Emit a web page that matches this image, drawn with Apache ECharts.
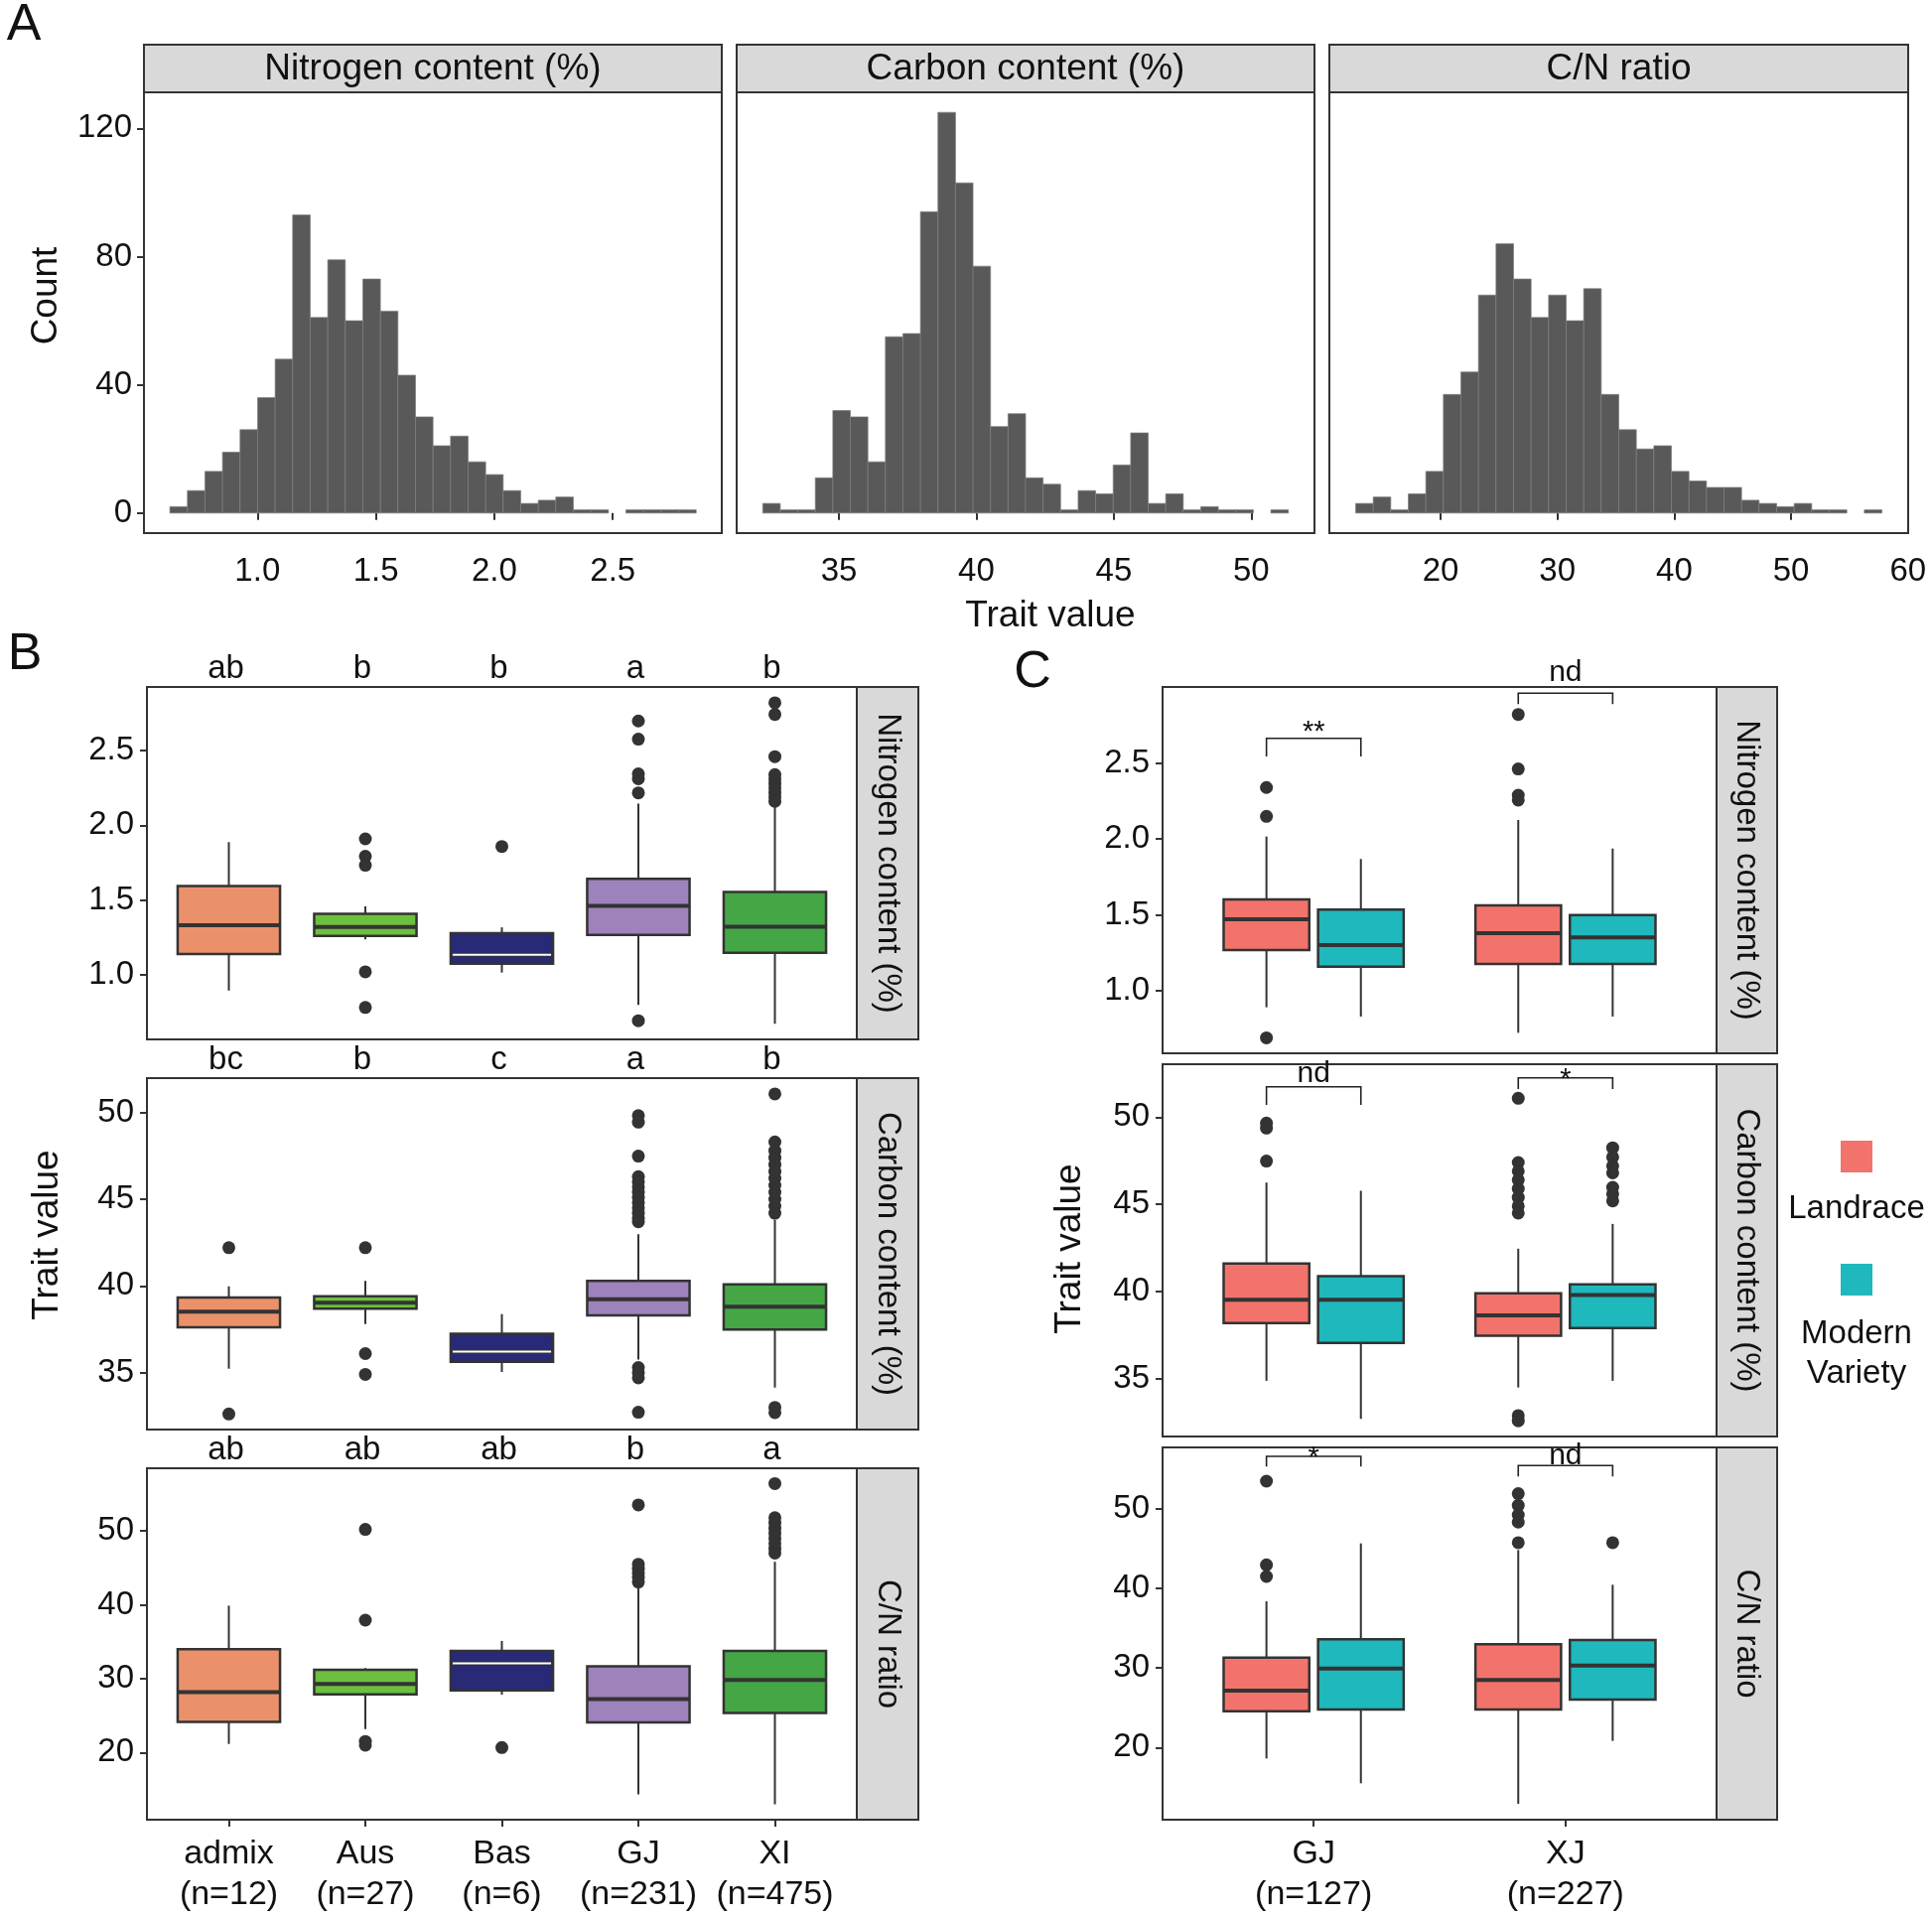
<!DOCTYPE html>
<html>
<head>
<meta charset="utf-8">
<title>Nitrogen, carbon and C/N ratio</title>
<script src="https://cdn.jsdelivr.net/npm/echarts@6.0.0/dist/echarts.min.js"></script>
<style>
html, body { margin: 0; padding: 0; background: #fff; }
#main { width: 1946px; height: 1929px; }
</style>
</head>
<body>
<div id="main"></div>
<script>
// ---- panel A: histograms (first bin edge, bin width, counts per bin)
const nitBinStart = 0.6304, nitBinWidth = 0.07405;
const nitCounts = [2, 7, 13, 19, 26, 36, 48, 93, 61, 79, 60, 73, 63, 43, 30, 21, 24, 16, 12, 7, 3, 4, 5, 1, 1, 0, 1, 1, 1, 1];
const carBinStart = 32.229, carBinWidth = 0.6374;
const carCounts = [3, 1, 1, 11, 32, 30, 16, 55, 56, 94, 125, 103, 77, 27, 31, 11, 9, 1, 7, 6, 15, 25, 3, 6, 1, 2, 1, 1, 0, 1];
const ratBinStart = 12.733, ratBinWidth = 1.5012;
const ratCounts = [3, 5, 1, 6, 13, 37, 44, 68, 84, 73, 61, 68, 60, 70, 37, 26, 20, 21, 13, 10, 8, 8, 4, 3, 2, 3, 1, 1, 0, 1];

const traitNames = ['Nitrogen content (%)', 'Carbon content (%)', 'C/N ratio'];
const countTicks = [0, 40, 80, 120];
const nitTicks = [1.0, 1.5, 2.0, 2.5];
const carTicks = [35, 40, 45, 50];
const ratTicksA = [20, 30, 40, 50, 60];
const ratTicks = [20, 30, 40, 50];

// ---- panel B: subpopulations, boxes are [min, Q1, median, Q3, max]
const groupNames = ['admix', 'Aus', 'Bas', 'GJ', 'XI'];
const groupN = [12, 27, 6, 231, 475];
const groupColors = ['#EA916B', '#6CBF3F', '#282A77', '#9E82BB', '#45A646'];
const groupMedian = ['#222', '#222', '#fff', '#222', '#222'];

const bNitBox = [
  [0.892, 1.137, 1.330, 1.593, 1.887],
  [1.235, 1.259, 1.319, 1.407, 1.456],
  [1.013, 1.073, 1.133, 1.277, 1.316],
  [0.796, 1.265, 1.460, 1.642, 2.146],
  [0.670, 1.146, 1.321, 1.553, 2.124]
];
const bNitOut = [
  [],
  [1.909, 1.792, 1.732, 1.018, 0.779],
  [1.858],
  [2.699, 2.577, 2.345, 2.312, 2.217, 0.690],
  [2.821, 2.743, 2.460, 2.34, 2.31, 2.28, 2.25, 2.22, 2.19, 2.16]
];
const bNitLetters = ['ab', 'b', 'b', 'a', 'b'];

const bCarBox = [
  [35.23, 37.62, 38.52, 39.33, 39.98],
  [37.81, 38.69, 39.03, 39.41, 40.29],
  [35.04, 35.63, 36.22, 37.24, 38.38],
  [35.76, 38.31, 39.24, 40.30, 42.98],
  [34.14, 37.49, 38.80, 40.10, 43.82]
];
const bCarOut = [
  [42.21, 32.62],
  [42.21, 36.10, 34.90],
  [],
  [49.83, 49.45, 47.49, 46.3, 46.0, 45.7, 45.4, 45.1, 44.8, 44.5, 44.2, 43.9, 43.7, 35.3, 35.0, 34.7, 32.72],
  [51.08, 48.31, 47.8, 47.4, 47.0, 46.6, 46.2, 45.8, 45.4, 45.0, 44.6, 44.2, 33.0, 32.7]
];
const bCarLetters = ['bc', 'b', 'c', 'a', 'b'];

const bRatBox = [
  [21.16, 24.16, 28.18, 33.99, 39.89],
  [23.17, 27.87, 29.30, 31.22, 31.44],
  [27.82, 28.40, 32.07, 33.77, 35.11],
  [14.32, 24.07, 27.24, 31.67, 42.49],
  [12.98, 25.36, 29.83, 33.77, 45.84]
];
const bRatOut = [
  [],
  [50.22, 37.93, 21.5, 21.0],
  [20.67],
  [53.53, 45.5, 44.9, 44.3, 43.7, 43.1],
  [56.43, 51.8, 51.1, 50.4, 49.7, 49.0, 48.3, 47.6, 47.0]
];
const bRatLetters = ['ab', 'ab', 'ab', 'b', 'a'];

// ---- panel C: GJ / XJ split by landrace and modern variety
const cGroups = ['GJ', 'XJ'];
const cGroupN = [127, 227];
const typeNames = ['Landrace', 'Modern', 'Variety'];
const typeColors = ['#F2736B', '#1FB8BC'];

// order: GJ landrace, GJ modern, XJ landrace, XJ modern
const cNitBox = [
  [0.891, 1.268, 1.471, 1.602, 2.016],
  [0.830, 1.159, 1.301, 1.534, 1.868],
  [0.723, 1.177, 1.379, 1.562, 2.125],
  [0.830, 1.177, 1.351, 1.499, 1.937]
];
const cNitOut = [[2.339, 2.149, 0.690], [], [2.820, 2.461, 2.288, 2.256], []];
const cCarBox = [
  [34.89, 38.20, 39.53, 41.61, 46.25],
  [32.71, 37.06, 39.53, 40.89, 45.78],
  [34.51, 37.48, 38.64, 39.91, 42.46],
  [34.89, 37.92, 39.81, 40.42, 43.88]
];
const cCarOut = [
  [49.66, 49.37, 47.48],
  [],
  [51.08, 47.4, 46.9, 46.4, 45.9, 45.4, 44.9, 44.5, 32.9, 32.6],
  [48.24, 47.7, 47.2, 46.8, 45.97, 45.6, 45.2]
];
const cRatBox = [
  [18.63, 24.57, 27.15, 31.30, 38.36],
  [15.51, 24.78, 29.93, 33.59, 45.63],
  [12.94, 24.78, 28.48, 32.96, 44.80],
  [20.83, 26.02, 30.30, 33.50, 40.44]
];
const cRatOut = [
  [53.44, 42.93, 41.48],
  [],
  [51.87, 50.41, 49.2, 48.3, 45.72],
  [45.72]
];
// significance brackets: [label, bracket y, leg bottom y, label y]
const cNitSig = [['**', 2.663, 2.543, 2.744], ['nd', 2.960, 2.888, 3.095]];
const cCarSig = [['nd', 51.74, 50.70, 52.46], ['*', 52.25, 51.61, 52.50]];
const cRatSig = [['*', 56.56, 55.27, 57.18], ['nd', 55.40, 54.03, 56.56]];

// ---------------------------------------------------------------
const FONT = '"Liberation Sans", Arial, sans-serif';
const DARK = '#333';
const TXT = '#111';
const DODGE = 0.1875;

const grids = [
  { left: 145, top: 93, width: 582, height: 444 },
  { left: 742, top: 93, width: 582, height: 444 },
  { left: 1339, top: 93, width: 583, height: 444 },
  { left: 148, top: 692, width: 715, height: 355 },
  { left: 148, top: 1086, width: 715, height: 354 },
  { left: 148, top: 1479, width: 715, height: 354 },
  { left: 1171, top: 692, width: 558, height: 369 },
  { left: 1171, top: 1072, width: 558, height: 375 },
  { left: 1171, top: 1458, width: 558, height: 375 }
].map(function (g) {
  return Object.assign({
    show: true, borderColor: DARK, borderWidth: 2, backgroundColor: '#fff',
    containLabel: false, outerBoundsMode: 'none'
  }, g);
});

function mkAxis(gi, min, max, ticks, show, fmt, margin, size) {
  return {
    type: 'value', gridIndex: gi, min: min, max: max,
    axisLine: { show: false },
    splitLine: { show: false },
    axisTick: { show: show, customValues: ticks, length: 7, lineStyle: { color: DARK, width: 2 } },
    axisLabel: {
      show: show, customValues: ticks, formatter: fmt, margin: margin,
      fontFamily: FONT, fontSize: size || 33, color: TXT, lineHeight: 41
    }
  };
}
const f1 = function (v) { return Number(v).toFixed(1); };
const f0 = function (v) { return String(Math.round(v)); };
const bName = function (v) { const i = Math.round(v) - 1; return groupNames[i] + '\n(n=' + groupN[i] + ')'; };
const cName = function (v) { const i = Math.round(v) - 1; return cGroups[i] + '\n(n=' + cGroupN[i] + ')'; };

const yRange = {
  b: [[0.565, 2.927], [31.72, 51.99], [10.90, 58.50]],
  c: [[0.588, 3.001], [31.70, 53.03], [10.94, 57.68]]
};

const xAxes = [
  mkAxis(0, 0.521, 2.960, nitTicks, true, f1, 18),
  mkAxis(1, 31.28, 52.30, carTicks, true, f0, 18),
  mkAxis(2, 10.48, 60.02, ratTicksA, true, f0, 18),
  mkAxis(3, 0.4, 5.6, [1, 2, 3, 4, 5], false, bName, 14),
  mkAxis(4, 0.4, 5.6, [1, 2, 3, 4, 5], false, bName, 14),
  mkAxis(5, 0.4, 5.6, [1, 2, 3, 4, 5], true, bName, 14, 34),
  mkAxis(6, 0.4, 2.6, [1, 2], false, cName, 14),
  mkAxis(7, 0.4, 2.6, [1, 2], false, cName, 14),
  mkAxis(8, 0.4, 2.6, [1, 2], true, cName, 14, 34)
];
const yAxes = [
  mkAxis(0, -6.25, 131.25, countTicks, true, f0, 12),
  mkAxis(1, -6.25, 131.25, countTicks, false, f0, 12),
  mkAxis(2, -6.25, 131.25, countTicks, false, f0, 12),
  mkAxis(3, yRange.b[0][0], yRange.b[0][1], nitTicks, true, f1, 13),
  mkAxis(4, yRange.b[1][0], yRange.b[1][1], carTicks, true, f0, 13),
  mkAxis(5, yRange.b[2][0], yRange.b[2][1], ratTicks, true, f0, 13),
  mkAxis(6, yRange.c[0][0], yRange.c[0][1], nitTicks, true, f1, 13),
  mkAxis(7, yRange.c[1][0], yRange.c[1][1], carTicks, true, f0, 13),
  mkAxis(8, yRange.c[2][0], yRange.c[2][1], ratTicks, true, f0, 13)
];

// ---- series builders
function histSeries(ai, start, width, counts) {
  const data = [];
  counts.forEach(function (c, i) {
    if (c > 0) data.push([start + i * width, start + (i + 1) * width, c]);
  });
  return {
    type: 'custom', xAxisIndex: ai, yAxisIndex: ai, silent: true,
    encode: { x: [0, 1], y: 2 },
    data: data,
    renderItem: function (params, api) {
      const p0 = api.coord([api.value(0), 0]);
      const p1 = api.coord([api.value(1), api.value(2)]);
      return {
        type: 'rect',
        shape: { x: p0[0], y: p1[1], width: p1[0] - p0[0], height: p0[1] - p1[1] },
        style: { fill: '#595959', stroke: '#7d7d7d', lineWidth: 0.7 }
      };
    }
  };
}

function boxSeries(ai, boxes, xs, width, fills, medians) {
  return {
    type: 'custom', xAxisIndex: ai, yAxisIndex: ai, silent: true,
    encode: { x: 0, y: [1, 2, 3, 4, 5] },
    data: boxes.map(function (b, i) { return [xs[i]].concat(b); }),
    renderItem: function (params, api) {
      const x = api.value(0);
      const lo = api.coord([x, api.value(1)]);
      const q1 = api.coord([x, api.value(2)]);
      const md = api.coord([x, api.value(3)]);
      const q3 = api.coord([x, api.value(4)]);
      const hi = api.coord([x, api.value(5)]);
      const l = api.coord([x - width / 2, api.value(3)])[0];
      const r = api.coord([x + width / 2, api.value(3)])[0];
      const ls = { stroke: DARK, lineWidth: 2 };
      const kids = [
        { type: 'line', shape: { x1: hi[0], y1: hi[1], x2: q3[0], y2: q3[1] }, style: ls },
        { type: 'line', shape: { x1: q1[0], y1: q1[1], x2: lo[0], y2: lo[1] }, style: ls },
        { type: 'rect', shape: { x: l, y: q3[1], width: r - l, height: q1[1] - q3[1] },
          style: { fill: fills[params.dataIndex], stroke: DARK, lineWidth: 2.5 } },
        { type: 'line', shape: { x1: l, y1: md[1], x2: r, y2: md[1] }, style: { stroke: DARK, lineWidth: 4 } }
      ];
      if (medians && medians[params.dataIndex] === '#fff') {
        kids.push({ type: 'line', shape: { x1: l + 2, y1: md[1], x2: r - 2, y2: md[1] },
          style: { stroke: medians[params.dataIndex], lineWidth: 2 } });
      }
      return { type: 'group', children: kids };
    }
  };
}

function outlierSeries(ai, outs, xs) {
  const data = [];
  outs.forEach(function (list, i) {
    list.forEach(function (v) { data.push([xs[i], v]); });
  });
  return {
    type: 'scatter', xAxisIndex: ai, yAxisIndex: ai, silent: true,
    symbolSize: 13, itemStyle: { color: DARK, opacity: 1 }, data: data, z: 5
  };
}

function letterSeries(ai, letters, yTop) {
  return {
    type: 'custom', xAxisIndex: ai, yAxisIndex: ai, silent: true, clip: false,
    encode: { x: 0, y: 1 },
    data: letters.map(function (l, i) { return [i + 1, yTop]; }),
    renderItem: function (params, api) {
      const p = api.coord([api.value(0), api.value(1)]);
      return {
        type: 'text', x: p[0] - 3, y: p[1] - 18,
        style: { text: letters[params.dataIndex], fontSize: 33, fontFamily: FONT, fill: TXT,
          align: 'center', verticalAlign: 'middle' }
      };
    }
  };
}

function sigSeries(ai, sig) {
  return {
    type: 'custom', xAxisIndex: ai, yAxisIndex: ai, silent: true, clip: false,
    encode: { x: [0, 1], y: [2, 3, 4] },
    data: sig.map(function (s, i) { return [i + 1 - DODGE, i + 1 + DODGE, s[1], s[2], s[3]]; }),
    renderItem: function (params, api) {
      const a = api.coord([api.value(0), api.value(2)]);
      const b = api.coord([api.value(1), api.value(2)]);
      const a2 = api.coord([api.value(0), api.value(3)]);
      const b2 = api.coord([api.value(1), api.value(3)]);
      const t = api.coord([(api.value(0) + api.value(1)) / 2, api.value(4)]);
      const label = sig[params.dataIndex][0];
      const star = label.indexOf('*') >= 0;
      return {
        type: 'group', children: [
          { type: 'polyline', shape: { points: [a2, a, b, b2] }, style: { stroke: '#222', lineWidth: 1.6, fill: null } },
          { type: 'text', x: t[0], y: t[1] + (star ? 7 : 0),
            style: { text: label, fontSize: star ? 29 : 30, fontFamily: FONT, fill: TXT,
              align: 'center', verticalAlign: 'middle' } }
        ]
      };
    }
  };
}

const bX = [1, 2, 3, 4, 5];
const cX = [1 - DODGE, 1 + DODGE, 2 - DODGE, 2 + DODGE];
const cFill = [typeColors[0], typeColors[1], typeColors[0], typeColors[1]];

const series = [
  histSeries(0, nitBinStart, nitBinWidth, nitCounts),
  histSeries(1, carBinStart, carBinWidth, carCounts),
  histSeries(2, ratBinStart, ratBinWidth, ratCounts),

  boxSeries(3, bNitBox, bX, 0.75, groupColors, groupMedian),
  outlierSeries(3, bNitOut, bX),
  letterSeries(3, bNitLetters, yRange.b[0][1]),
  boxSeries(4, bCarBox, bX, 0.75, groupColors, groupMedian),
  outlierSeries(4, bCarOut, bX),
  letterSeries(4, bCarLetters, yRange.b[1][1]),
  boxSeries(5, bRatBox, bX, 0.75, groupColors, groupMedian),
  outlierSeries(5, bRatOut, bX),
  letterSeries(5, bRatLetters, yRange.b[2][1]),

  boxSeries(6, cNitBox, cX, 0.34, cFill, null),
  outlierSeries(6, cNitOut, cX),
  sigSeries(6, cNitSig),
  boxSeries(7, cCarBox, cX, 0.34, cFill, null),
  outlierSeries(7, cCarOut, cX),
  sigSeries(7, cCarSig),
  boxSeries(8, cRatBox, cX, 0.34, cFill, null),
  outlierSeries(8, cRatOut, cX),
  sigSeries(8, cRatSig)
];

// ---- strips, titles, legend
function txt(x, y, s, size, rot) {
  return {
    type: 'text', x: x, y: y, rotation: rot || 0, silent: true,
    style: { text: s, fontSize: size, fontFamily: FONT, fill: TXT, align: 'center', verticalAlign: 'middle' }
  };
}
function stripTop(g, label) {
  return [
    { type: 'rect', silent: true, shape: { x: g.left, y: 45, width: g.width, height: g.top - 45 },
      style: { fill: '#D9D9D9', stroke: DARK, lineWidth: 2 } },
    txt(g.left + g.width / 2, (45 + g.top) / 2 + 1, label, 37)
  ];
}
function stripRight(g, label, w) {
  const x = g.left + g.width;
  return [
    { type: 'rect', silent: true, shape: { x: x, y: g.top, width: w, height: g.height },
      style: { fill: '#D9D9D9', stroke: DARK, lineWidth: 2 } },
    txt(x + w / 2, g.top + g.height / 2, label, 33, -Math.PI / 2)
  ];
}

let graphics = [];
for (let i = 0; i < 3; i++) graphics = graphics.concat(stripTop(grids[i], traitNames[i]));
for (let i = 0; i < 3; i++) graphics = graphics.concat(stripRight(grids[3 + i], traitNames[i], 62));
for (let i = 0; i < 3; i++) graphics = graphics.concat(stripRight(grids[6 + i], traitNames[i], 61));
graphics = graphics.concat([
  txt(24, 26, 'A', 52),
  txt(25, 660, 'B', 52),
  txt(1040, 678, 'C', 52),
  txt(47, 298, 'Count', 37, Math.PI / 2),
  txt(1058, 621, 'Trait value', 37),
  txt(48, 1244, 'Trait value', 37, Math.PI / 2),
  txt(1078, 1258, 'Trait value', 37, Math.PI / 2),
  { type: 'rect', silent: true, shape: { x: 1854, y: 1149, width: 32, height: 32 }, style: { fill: typeColors[0] } },
  txt(1870, 1218, typeNames[0], 33),
  { type: 'rect', silent: true, shape: { x: 1854, y: 1273, width: 32, height: 32 }, style: { fill: typeColors[1] } },
  txt(1870, 1344, typeNames[1], 33),
  txt(1870, 1384, typeNames[2], 33)
]);

const chart = echarts.init(document.getElementById('main'));
chart.setOption({
  animation: false,
  backgroundColor: '#fff',
  textStyle: { fontFamily: FONT },
  grid: grids,
  xAxis: xAxes,
  yAxis: yAxes,
  series: series,
  graphic: graphics
});
</script>
</body>
</html>
